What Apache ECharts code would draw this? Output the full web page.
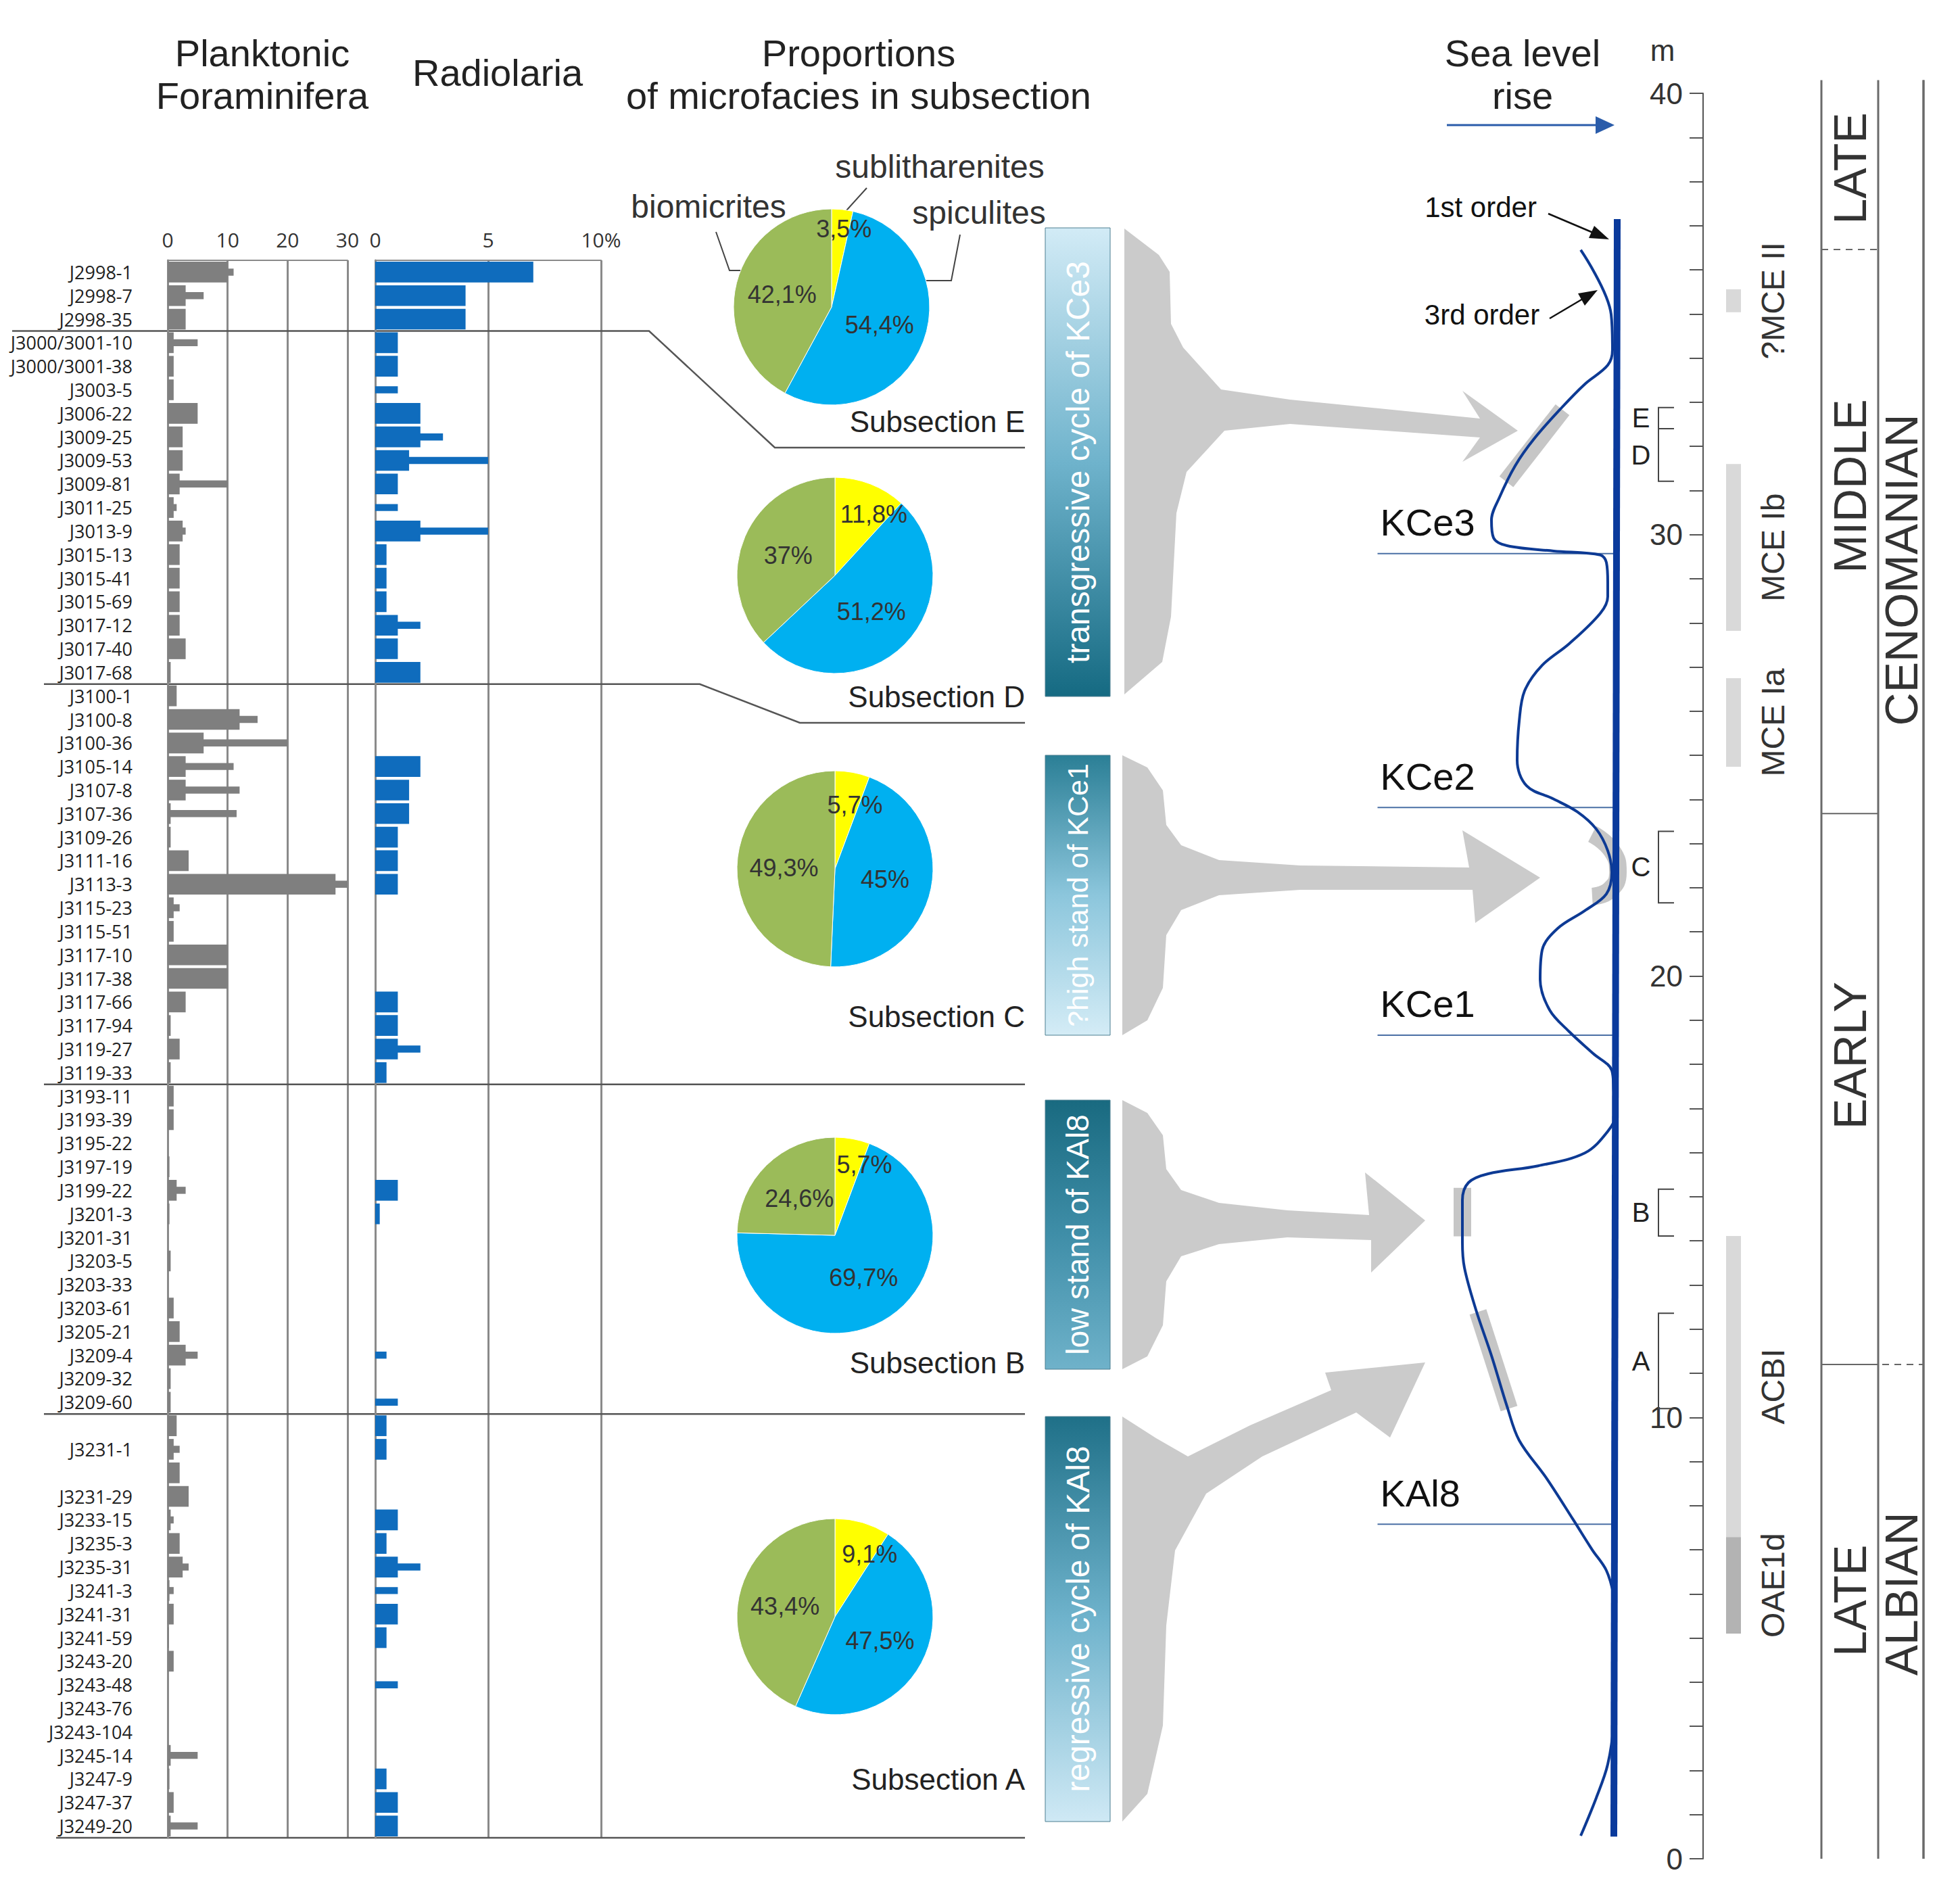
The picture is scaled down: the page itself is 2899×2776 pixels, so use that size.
<!DOCTYPE html>
<html><head><meta charset="utf-8">
<script src="https://cdn.jsdelivr.net/npm/echarts@6/dist/echarts.min.js"></script>
<style>html,body{margin:0;padding:0;background:#fff;overflow:hidden}#c{width:2899px;height:2776px}</style>
</head><body><div id="c"></div>
<script>
// ---------------- DATA ----------------
const sampleLabels = ['J2998-1','J2998-7','J2998-35','J3000/3001-10','J3000/3001-38','J3003-5','J3006-22','J3009-25','J3009-53','J3009-81','J3011-25','J3013-9','J3015-13','J3015-41','J3015-69','J3017-12','J3017-40','J3017-68','J3100-1','J3100-8','J3100-36','J3105-14','J3107-8','J3107-36','J3109-26','J3111-16','J3113-3','J3115-23','J3115-51','J3117-10','J3117-38','J3117-66','J3117-94','J3119-27','J3119-33','J3193-11','J3193-39','J3195-22','J3197-19','J3199-22','J3201-3','J3201-31','J3203-5','J3203-33','J3203-61','J3205-21','J3209-4','J3209-32','J3209-60',' ','J3231-1','  ','J3231-29','J3233-15','J3235-3','J3235-31','J3241-3','J3241-31','J3241-59','J3243-20','J3243-48','J3243-76','J3243-104','J3245-14','J3247-9','J3247-37','J3249-20'];
const foram = [10,3,3,1,1,1,5,2.5,2.5,2,1,2.5,2,2,2,2,3,0.5, 1.5,12,6,3,3,0.5,0.5,3.5,28,1,1,10,10,3,0.5,2,0.5, 1,1,0,0.3,1.5,0.3,0,0.5,0,1,2,3,0.5,0.5, 1.5,1,2,3.5,0.5,2,2.5,0.3,1,0.2,1,0,0,0,0.5,0.3,1,0.5];
const foramPeak = [11,6,null,5,null,null,null,null,null,10,1.5,3,null,null,null,null,null,null, null,15,20,11,12,11.5,null,null,30,2,null,null,null,null,null,null,null, null,null,null,null,3,null,null,null,null,null,null,5,null,null, null,2,null,null,1,null,3.5,1,null,null,null,null,null,null,5,null,null,5];
const radiolaria = [7,4,4,1,1,0,2,2,1.5,1,0,2,0.5,0.5,0.5,1,1,2, 0,0,0,2,1.5,1.5,1,1,1,0,0,0,0,1,1,1,0.5, 0,0,0,0,1,0.2,0,0,0,0,0,0,0,0, 0.5,0.5,0,0,1,0.5,1,0,1,0.5,0,0,0,0,0,0.5,1,1];
const radiolariaPeak = [null,null,null,null,null,1,null,3,5,null,1,5,null,null,null,2,null,null, null,null,null,null,null,null,null,null,null,null,null,null,null,null,null,2,null, null,null,null,null,null,null,null,null,null,null,null,0.5,null,1, null,null,null,null,null,null,2,1,null,null,null,1,null,null,null,null,null,null];
const groupEnds = [2,17,34,48,66];
const foramTicks = [0,10,20,30];
const radioTicks = [0,5,10];

const subsections = ['E','D','C','B','A'];
const sublitharenites = [3.5,11.8,5.7,5.7,9.1];
const spiculites = [54.4,51.2,45,69.7,47.5];
const biomicrites = [42.1,37,49.3,24.6,43.4];

const seaLevelX = [67.6,76.6,77.0,75.6,68.8,62.0,53.8,48.2,43.6,41.2,41.8,45.8,59.6,73.4,75.2,75.6,75.6,73.4,64.2,56.2,51.0,49.4,48.8,51.6,59.6,66.6,72.2,75.6,76.8,75.2,68.8,60.8,56.2,55.6,58.4,64.2,71.2,76.8,77.4,78.0,75.6,68.8,55.0,40.2,34.4,32.6,32.6,33.2,36.6,41.2,45.8,49.4,57.4,65.4,71.0,75.2,77.4,78.0,78.0,77.4,75.6,72.2,67.6];
const seaLevelDepth = [36.45,34.99,34.19,33.84,33.41,32.88,32.17,31.56,30.85,30.33,29.93,29.75,29.63,29.54,29.37,28.92,28.60,28.22,27.53,27.04,26.46,25.77,24.89,24.31,24.01,23.72,23.33,22.84,22.35,21.86,21.48,21.08,20.59,19.92,19.23,18.74,18.25,17.86,17.37,16.88,16.48,15.99,15.70,15.52,15.32,14.92,13.97,13.39,12.44,11.40,10.25,9.48,8.63,7.68,7.00,6.53,5.96,5.48,4.53,3.09,2.14,1.38,0.52];
const firstOrderX = [77.4,78.4];
const firstOrderDepth = [0.5,37.15];
const highlightE = [[45.6,31.2],[62.2,32.83]];
const highlightC = [[71.0,23.22],[76.8,22.84],[78.6,22.35],[76.2,21.95],[71.0,21.8]];
const highlightB = [[32.6,15.2],[32.6,14.1]];
const highlightA = [[37.2,12.39],[46.4,10.2]];
const surfaceNames = ['KCe3','KCe2','KCe1','KAl8'];
const surfaceDepth = [29.57,23.82,18.66,7.58];
const bracketNames = ['E','D','C','B','A'];
const bracketTop = [32.88,32.40,23.28,15.17,12.36];
const bracketBottom = [32.40,31.21,21.66,14.11,10.20];
const eventNames = ['?MCE II','MCE Ib','MCE Ia','ACBI','OAE1d'];
const eventFrom = [35.04,27.82,24.74,7.29,5.10];
const eventTo = [35.56,31.60,26.75,14.11,7.29];
const substageNames = ['LATE','MIDDLE','EARLY','LATE'];
const substageFrom = [36.46,23.68,11.20,0];
const substageTo = [40.3,36.46,23.68,11.20];
const substageLabelAt = [38.3,31.1,18.2,5.85];
const stageNames = ['CENOMANIAN','ALBIAN'];
const stageFrom = [11.20,0];
const stageTo = [40.3,11.20];
const stageLabelAt = [29.2,6.0];
const depthTicks = [0,10,20,30,40];
const columnTop = 40.3;

// ---------------- CHART ----------------
const chart = echarts.init(document.getElementById('c'), null, {renderer:'svg'});
const SANS = 'Liberation Sans, Arial, sans-serif';
const OPEN = 'Open Sans, DejaVu Sans, sans-serif';
const GRIDC = '#8a8a8a';
const COLS = [175,259,326];

function thinBar(color){
  return function(params, api){
    const v = api.value(0), idx = api.value(1);
    const p0 = api.coord([0, idx]), p1 = api.coord([v, idx]);
    const h = api.size([0,1])[1]*0.3;
    return {type:'rect', shape:{x:p0[0], y:p0[1]-h/2, width:p1[0]-p0[0], height:h}, style:{fill:color}};
  };
}
const peakData = arr => arr.map((v,i)=>[v,i]).filter(d=>d[0]!=null);
const yellowShift = [[5,-20],[15,-10],[8,-10],[15,-15],[15,-10]];

const pieSeries = subsections.map((s,i)=>({
  type:'pie', silent:true, radius:145, center:[[1230,1235,1235,1235,1235][i], [454,851,1285,1827,2391][i]],
  startAngle:90, clockwise:true,
  itemStyle:{borderColor:'#fff', borderWidth:1},
  label:{show:true, position:'inside', fontSize:36, fontFamily:SANS, color:'#333',
    formatter:p=>String(p.value).replace('.',',')+'%'},
  labelLine:{show:false},
  labelLayout:p=> p.dataIndex===0 ? {dx:yellowShift[i][0], dy:yellowShift[i][1]} : {},
  emphasis:{disabled:true},
  data:[
    {name:'sublitharenites', value:sublitharenites[i], itemStyle:{color:'#ffff00'}},
    {name:'spiculites', value:spiculites[i], itemStyle:{color:'#00b0f0'}},
    {name:'biomicrites', value:biomicrites[i], itemStyle:{color:'#9bbb59'}}
  ]
}));

const option = {
  backgroundColor:'#fff',
  animation:false,
  grid:[
    {left:248, top:385, width:266, height:2333},
    {left:555, top:385, width:334, height:2333},
    {left:2000, top:138, width:500, height:2611},
    {left:2519, top:138, width:370, height:2611}
  ],
  xAxis:[
    {gridIndex:0, type:'value', position:'top', min:0, max:30, interval:10,
     axisLine:{show:true, lineStyle:{color:GRIDC, width:2}}, axisTick:{show:false},
     axisLabel:{fontSize:30, color:'#333', margin:16, fontFamily:OPEN, formatter:v=>foramTicks.includes(v)?String(v):''},
     splitLine:{show:true, lineStyle:{color:GRIDC, width:3}}},
    {gridIndex:1, type:'value', position:'top', min:0, max:10, interval:5,
     axisLine:{show:true, lineStyle:{color:GRIDC, width:2}}, axisTick:{show:false},
     axisLabel:{fontSize:30, color:'#333', margin:16, fontFamily:OPEN, formatter:v=>radioTicks.includes(v)?(v===10?'10%':String(v)):''},
     splitLine:{show:true, lineStyle:{color:GRIDC, width:3}}},
    {gridIndex:2, type:'value', min:0, max:100, show:false},
    {gridIndex:3, type:'value', min:0, max:370, show:false}
  ],
  yAxis:[
    {gridIndex:0, type:'category', inverse:true, data:sampleLabels,
     axisLine:{show:true, lineStyle:{color:GRIDC, width:3}}, axisTick:{show:false},
     axisLabel:{interval:0, fontSize:27, color:'#222', fontFamily:OPEN, margin:52}},
    {gridIndex:1, type:'category', inverse:true, data:sampleLabels,
     axisLine:{show:true, lineStyle:{color:GRIDC, width:3}}, axisTick:{show:false}, axisLabel:{show:false}},
    {gridIndex:2, type:'value', min:0, max:40, show:false},
    {gridIndex:3, type:'value', min:0, max:40, interval:1, position:'left',
     axisLine:{show:true, lineStyle:{color:'#555', width:2}},
     axisTick:{show:true, inside:false, length:20, lineStyle:{color:'#555', width:2}},
     axisLabel:{margin:30, fontSize:44, color:'#333', fontFamily:SANS,
       formatter:v=>depthTicks.includes(v)?String(v):''},
     splitLine:{show:false}}
  ],
  series:[
    {type:'custom', xAxisIndex:0, yAxisIndex:0, renderItem:thinBar('#7f7f7f'), data:peakData(foramPeak), encode:{x:0,y:1}, z:2, silent:true},
    {type:'bar', xAxisIndex:0, yAxisIndex:0, data:foram, barWidth:'88%', itemStyle:{color:'#7f7f7f'}, z:3, silent:true},
    {type:'custom', xAxisIndex:1, yAxisIndex:1, renderItem:thinBar('#0f6cbd'), data:peakData(radiolariaPeak), encode:{x:0,y:1}, z:2, silent:true},
    {type:'bar', xAxisIndex:1, yAxisIndex:1, data:radiolaria, barWidth:'88%', itemStyle:{color:'#0f6cbd'}, z:3, silent:true},
    ...pieSeries,
    ...[highlightE, highlightC, highlightB, highlightA].map(h=>({
      type:'line', xAxisIndex:2, yAxisIndex:2, data:h, symbol:'none', smooth:h.length>2, silent:true,
      lineStyle:{color:'#c6c6c6', width:26, cap:'butt'}, z:1})),
    {type:'custom', xAxisIndex:2, yAxisIndex:2, silent:true, z:2,
     data:surfaceNames.map((n,i)=>[0, surfaceDepth[i], i]), encode:{x:0,y:1},
     renderItem:(params, api)=>{
       const d = api.value(1), i = api.value(2);
       const p0 = api.coord([7.5, d]), p1 = api.coord([77.5, d]);
       return {type:'group', children:[
         {type:'line', shape:{x1:p0[0], y1:p0[1], x2:p1[0], y2:p1[1]}, style:{stroke:'#4a6fa5', lineWidth:2}},
         {type:'text', x:p0[0]+4, y:p0[1]-18, style:{text:surfaceNames[i], fontSize:56, fontFamily:SANS, fill:'#111', align:'left', verticalAlign:'bottom'}}
       ]};
     }},
    {type:'line', xAxisIndex:2, yAxisIndex:2, symbol:'none', smooth:0.35, silent:true, z:3,
     data:seaLevelX.map((x,i)=>[x, seaLevelDepth[i]]), lineStyle:{color:'#0d3a94', width:4}},
    {type:'line', xAxisIndex:2, yAxisIndex:2, symbol:'none', silent:true, z:4,
     data:firstOrderX.map((x,i)=>[x, firstOrderDepth[i]]), lineStyle:{color:'#0a3a9c', width:10}},
    {type:'custom', xAxisIndex:2, yAxisIndex:2, silent:true, z:2,
     data:bracketNames.map((n,i)=>[0, bracketTop[i], bracketBottom[i], i]), encode:{x:0,y:1},
     renderItem:(params, api)=>{
       const t = api.value(1), b = api.value(2), i = api.value(3);
       const a1 = api.coord([95.2, t]), a2 = api.coord([90.6, t]), a3 = api.coord([90.6, b]), a4 = api.coord([95.2, b]);
       const m = api.coord([85.4, (t+b)/2]);
       return {type:'group', children:[
         {type:'polyline', shape:{points:[a1,a2,a3,a4]}, style:{stroke:'#444', lineWidth:2, fill:null}},
         {type:'text', x:m[0], y:m[1], style:{text:bracketNames[i], fontSize:40, fontFamily:SANS, fill:'#222', align:'center', verticalAlign:'middle'}}
       ]};
     }},
    {type:'custom', xAxisIndex:3, yAxisIndex:3, silent:true, z:2,
     data:eventNames.map((n,i)=>[0, eventFrom[i], eventTo[i], i]), encode:{x:0,y:1},
     renderItem:(params, api)=>{
       const f = api.value(1), t = api.value(2), i = api.value(3);
       const p0 = api.coord([34, t]), p1 = api.coord([56, f]);
       const lab = api.coord([103, (f+t)/2]);
       return {type:'group', children:[
         {type:'rect', shape:{x:p0[0], y:p0[1], width:p1[0]-p0[0], height:p1[1]-p0[1]}, style:{fill: eventNames[i]==='OAE1d' ? '#b3b3b3' : '#d9d9d9'}},
         {type:'text', x:lab[0], y:lab[1], rotation:Math.PI/2, style:{text:eventNames[i], fontSize:48, fontFamily:SANS, fill:'#333', align:'center', verticalAlign:'middle'}}
       ]};
     }},
    {type:'custom', xAxisIndex:3, yAxisIndex:3, silent:true, z:2,
     data:substageNames.map((n,i)=>[0, substageFrom[i], substageTo[i], i]), encode:{x:0,y:1},
     renderItem:(params, api)=>{
       const f = api.value(1), t = api.value(2), i = api.value(3);
       const ch = [];
       const lab = api.coord([217, substageLabelAt[i]]);
       ch.push({type:'text', x:lab[0], y:lab[1], rotation:Math.PI/2, style:{text:substageNames[i], fontSize:68, fontFamily:SANS, fill:'#333', align:'center', verticalAlign:'middle'}});
       const l0 = api.coord([COLS[0], t]), l1 = api.coord([COLS[1], t]);
       if (t < 40) ch.push({type:'line', shape:{x1:l0[0], y1:l0[1], x2:l1[0], y2:l1[1]}, style:{stroke:'#666', lineWidth:2, lineDash: (i===1 ? [10,8] : null)}});
       return {type:'group', children:ch};
     }},
    {type:'custom', xAxisIndex:3, yAxisIndex:3, silent:true, z:2,
     data:stageNames.map((n,i)=>[0, stageFrom[i], stageTo[i], i]), encode:{x:0,y:1},
     renderItem:(params, api)=>{
       const f = api.value(1), t = api.value(2), i = api.value(3);
       const ch = [];
       const lab = api.coord([293, stageLabelAt[i]]);
       ch.push({type:'text', x:lab[0], y:lab[1], rotation:Math.PI/2, style:{text:stageNames[i], fontSize:68, fontFamily:SANS, fill:'#333', align:'center', verticalAlign:'middle'}});
       if (i===0) {
         const a = api.coord([COLS[0], f]), b = api.coord([COLS[2], f]);
         ch.push({type:'line', shape:{x1:a[0], y1:a[1], x2:b[0], y2:b[1]}, style:{stroke:'#666', lineWidth:2, lineDash:[10,8]}});
       }
       return {type:'group', children:ch};
     }},
    ...COLS.map(x=>({type:'line', xAxisIndex:3, yAxisIndex:3, symbol:'none', silent:true, clip:false, z:2,
       data:[[x,0],[x,columnTop]], lineStyle:{color:'#6a6a6a', width:3}}))
  ]
};
chart.setOption(option);

// ---------------- DECORATION ----------------
function txt(x,y,text,size,opts){ return Object.assign({type:'text', x, y, silent:true, style:Object.assign({text, fontSize:size, fontFamily:SANS, fill:'#222', align:'center', verticalAlign:'middle'}, (opts&&opts.style)||{})}, opts&&opts.el||{}); }
function pl(points, color, w){ return {type:'polyline', silent:true, shape:{points}, style:{stroke:color||'#555', lineWidth:w||2.5, fill:null}}; }
function poly(points, fill){ return {type:'polygon', silent:true, shape:{points}, style:{fill}}; }
function grad(stops){ return {type:'linear', x:0, y:0, x2:0, y2:1, colorStops:stops.map((c,i)=>({offset:i/(stops.length-1), color:c}))}; }

const yPix = i => chart.convertToPixel({yAxisIndex:0}, i);
const rowH = yPix(1) - yPix(0);
const sepY = groupEnds.map(i => i === sampleLabels.length-1 ? yPix(i)+rowH/2 : (yPix(i)+yPix(i+1))/2);
const cTop = chart.convertToPixel({gridIndex:3}, [COLS[2], columnTop]);
const cBot = chart.convertToPixel({gridIndex:3}, [COLS[2], 0]);

const G = [];
if (cTop && cBot) G.push({type:'line', silent:true, z:60, shape:{x1:cTop[0], y1:cTop[1], x2:cBot[0], y2:cBot[1]}, style:{stroke:'#6a6a6a', lineWidth:3}});
G.push(txt(388,78,'Planktonic',56), txt(388,141,'Foraminifera',56), txt(736,107,'Radiolaria',56));
G.push(txt(1270,78,'Proportions',56), txt(1270,141,'of microfacies in subsection',56));
G.push(txt(2252,78,'Sea level',56), txt(2252,141,'rise',56), txt(2459,74,'m',44,{style:{fill:'#333'}}));
G.push(pl([[2140,185],[2362,185]],'#2a5caa',3), poly([[2360,172],[2388,185],[2360,198]],'#2a5caa'));
G.push(pl([[18,sepY[0]],[960,sepY[0]],[1146,662],[1516,662]]));
G.push(pl([[65,sepY[1]],[1035,sepY[1]],[1183,1069],[1516,1069]]));
G.push(pl([[65,sepY[2]],[1516,sepY[2]]]));
G.push(pl([[65,sepY[3]],[1516,sepY[3]]]));
G.push(pl([[83,sepY[4]],[1516,sepY[4]]]));
G.push(txt(1048,305,'biomicrites',48,{style:{fill:'#333'}}), txt(1390,246,'sublitharenites',48,{style:{fill:'#333'}}), txt(1448,314,'spiculites',48,{style:{fill:'#333'}}));
G.push(pl([[1059,343],[1079,400],[1128,400]],'#444',2), pl([[1282,278],[1244,320]],'#444',2), pl([[1420,347],[1407,415],[1340,415]],'#444',2));
[['Subsection E',623],['Subsection D',1030],['Subsection C',1503],['Subsection B',2015],['Subsection A',2631]].forEach(s=>G.push(txt(1516,s[1],s[0],44,{style:{align:'right'}})));
G.push(poly([[1663,338],[1714,377],[1730,402],[1732,479],[1750,514],[1806,576],[1908,591],[2189,619],[2163,578],[2245,637],[2163,683],[2189,647],[1908,627],[1811,637],[1755,698],[1740,759],[1732,912],[1719,979],[1663,1027]],'#cbcbcb'));
G.push(poly([[1660,1117],[1697,1135],[1720,1169],[1725,1220],[1747,1250],[1803,1272],[1923,1280],[2173,1283],[2163,1228],[2278,1298],[2182,1365],[2178,1316],[1923,1316],[1803,1324],[1747,1346],[1725,1383],[1720,1461],[1697,1509],[1660,1531]],'#cbcbcb'));
G.push(poly([[1660,1627],[1697,1646],[1720,1679],[1725,1729],[1747,1760],[1803,1779],[1904,1790],[2025,1797],[2019,1734],[2108,1805],[2028,1882],[2028,1834],[1904,1830],[1803,1840],[1747,1858],[1725,1895],[1720,1960],[1697,2006],[1660,2025]],'#cbcbcb'));
G.push(poly([[1660,2095],[1710,2127],[1757,2154],[1849,2108],[1969,2056],[1960,2030],[2108,2015],[2056,2126],[2006,2089],[1867,2154],[1784,2209],[1738,2293],[1725,2404],[1720,2552],[1697,2653],[1660,2694]],'#cbcbcb'));
const boxes = [
  [337,1030,'transgressive cycle of KCe3',['#d2ebf6','#6fb3cc','#156a82'],48],
  [1117,1531,'?high stand of KCe1',['#2b7f96','#8cc6dc','#d4ecf6'],43],
  [1627,2025,'low stand of KAl8',['#196a80','#3f8ea8','#6fb2ca'],46],
  [2095,2694,'regressive cycle of KAl8',['#1f7088','#6fb3cc','#cfe9f5'],48]
];
boxes.forEach(b=>{
  G.push({type:'rect', silent:true, shape:{x:1546,y:b[0],width:96,height:b[1]-b[0]}, style:{fill:grad(b[3]), stroke:'#4d7f90', lineWidth:1}});
  G.push(txt(1594,(b[0]+b[1])/2,b[2],b[4],{style:{fill:'#fff'}, el:{rotation:Math.PI/2}}));
});
G.push(txt(2190,306,'1st order',42,{style:{fill:'#111'}}), txt(2192,465,'3rd order',42,{style:{fill:'#111'}}));
G.push(pl([[2290,316],[2356,344]],'#111',2.5), poly([[2380,354],[2350,352],[2358,334]],'#111'));
G.push(pl([[2292,471],[2341,442]],'#111',2.5), poly([[2363,429],[2344,452],[2334,434]],'#111'));

chart.setOption({graphic:{elements:G}});
</script>
</body></html>
